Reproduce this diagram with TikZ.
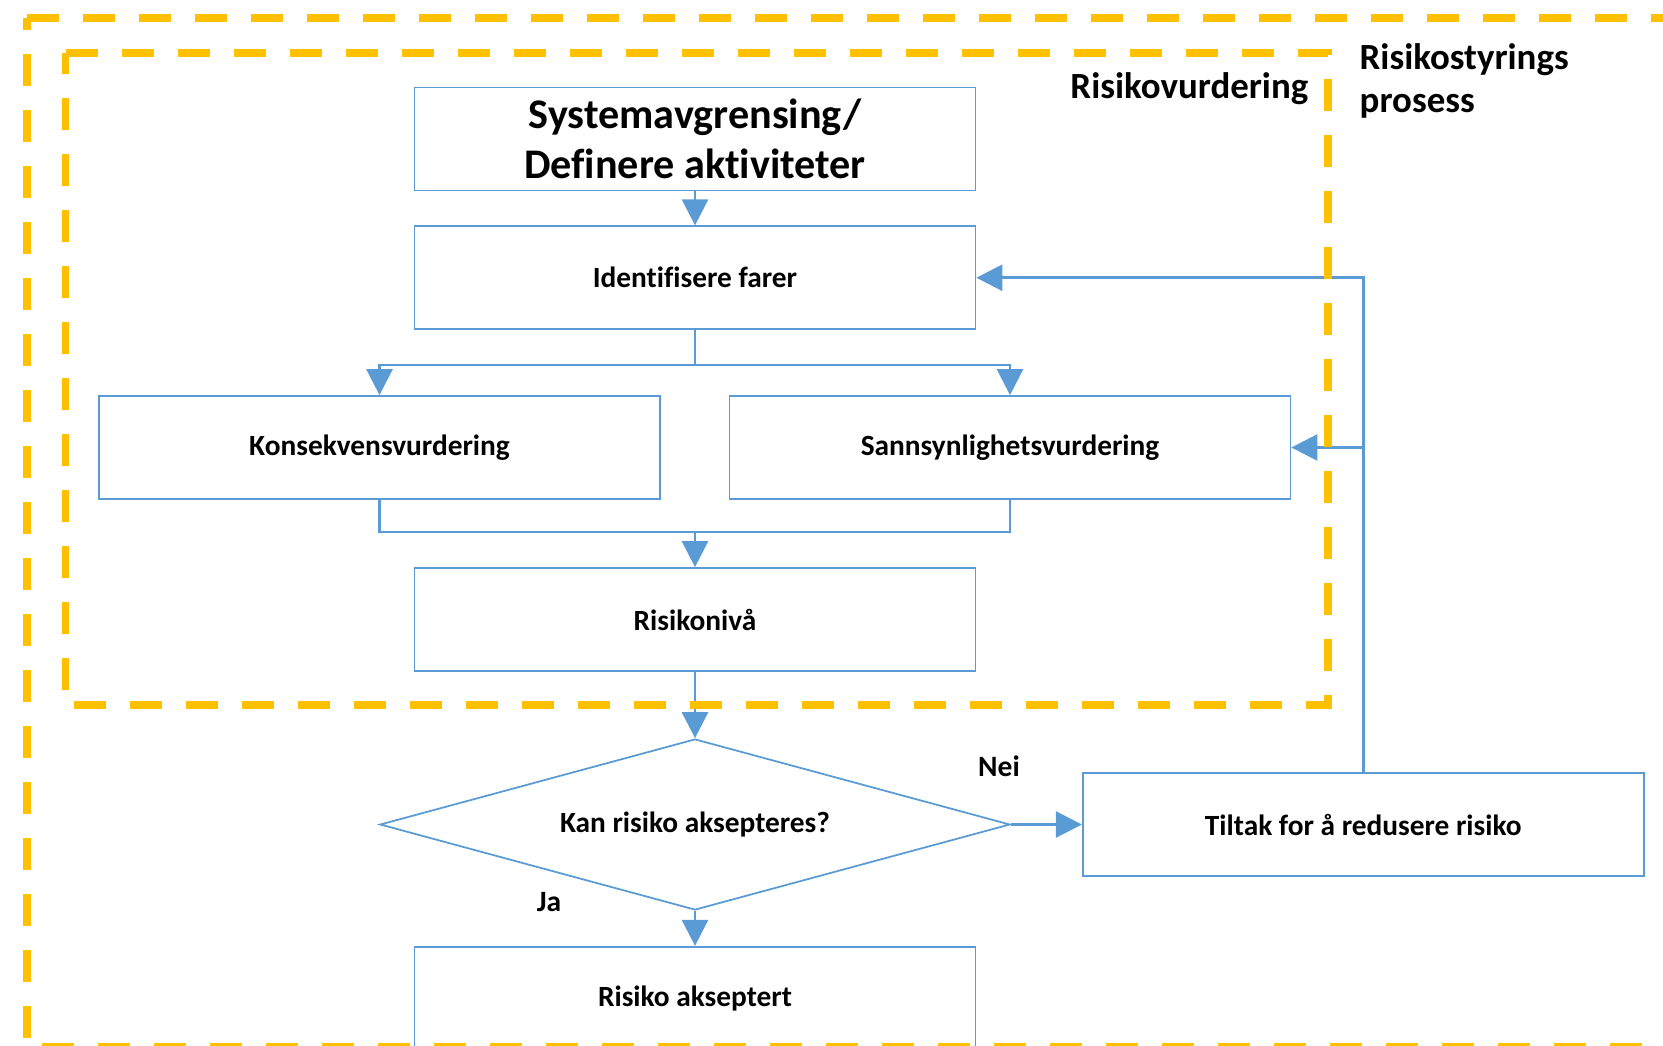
\documentclass[tikz,border=0pt]{standalone}
\usepackage{fontspec}
\setmainfont{Carlito}[Ligatures=NoCommon]
\usepackage{xcolor}
\usepackage{tikz}
\usetikzlibrary{positioning}
\usetikzlibrary{calc,arrows.meta}
\usetikzlibrary{shapes.geometric}

\definecolor{strekblaa}{HTML}{5B9BD5}
\definecolor{rammegul}{HTML}{FFC000}

\begin{document}
\begin{tikzpicture}[
    boks/.style={draw=strekblaa, line width=0.5pt, minimum width=5.61cm,
      minimum height=1.03cm, inner sep=0pt, align=center,
      font=\bfseries\fontsize{8.35}{10}\selectfont},
    valg/.style={boks, diamond, aspect=3.68, minimum width=6.3cm, minimum height=1.71cm},
    pil/.style={draw=strekblaa, line width=0.75pt, -{Triangle[length=0.26cm,width=0.26cm]}},
    linje/.style={draw=strekblaa, line width=0.75pt},
    ramme/.style={draw=rammegul, line width=2.1pt, dash pattern=on 0.32cm off 0.24cm},
    tittel/.style={inner sep=0pt, font=\bfseries\fontsize{10.5}{12.2}\selectfont},
    svar/.style={inner sep=0pt, font=\bfseries\fontsize{8.4}{10}\selectfont}
  ]
  % size of the whole picture
  \clip (0,0) rectangle (16.63,-10.45);

  \def\midtX{6.95}

  % the main column
  \node[boks, font=\bfseries\fontsize{12}{14.2}\selectfont] (sys) at (\midtX,-1.39) {Systemavgrensing/\\Definere aktiviteter};
  \node[boks, below=0.34cm of sys] (ident) {Identifisere farer};
  \node[boks] (konsek) at (3.795,-4.475) {Konsekvensvurdering};
  \node[boks] (sann) at (10.10,-4.475) {Sannsynlighetsvurdering};
  \node[boks] (nivaa) at (\midtX,-6.195) {Risikonivå};
  \node[valg] (aksept) at (\midtX,-8.245) {Kan risiko aksepteres?};
  \node[boks, right=0.71cm of aksept] (tiltak) {Tiltak for å redusere risiko};
  \node[boks, below=0.35cm of aksept] (godkjent) {Risiko akseptert};

  % answers
  \node[svar, anchor=base] (nei) at (9.99,-7.76) {Nei};
  \node[svar, anchor=base] (ja) at (5.49,-9.11) {Ja};

  % arrows down the column
  \draw[pil] (sys) -- (ident);
  \coordinate (deling) at ($(ident.south)+(0,-0.35)$);
  \draw[pil] (ident.south) -- (deling) -| (konsek.north);
  \draw[pil] (deling) -| (sann.north);
  \coordinate (samling) at ($(nivaa.north)+(0,0.35)$);
  \draw[linje] (konsek.south) |- (samling) -| (sann.south);
  \draw[pil] (samling) -- (nivaa);
  \draw[pil] (nivaa) -- (aksept);
  \draw[pil] (aksept) -- (tiltak);
  \draw[pil] (aksept) -- (godkjent);

  % back from the measures
  \draw[pil] (tiltak.north) |- (ident.east);
  \draw[pil] (tiltak.north |- sann.east) -- (sann.east);

  % dashed frames, drawn on top
  \draw[ramme] (0.27,-0.18) -- (17.2,-0.18) -- (17.2,-10.47) -- (0.27,-10.47) -- cycle;
  \draw[ramme] (0.655,-0.53) -- (13.28,-0.53) -- (13.28,-7.05) -- (0.655,-7.05) -- cycle;

  \node[tittel, anchor=base east] (vurdering) at (13.09,-0.98) {Risikovurdering};
  \node[tittel, anchor=north west, align=left] (styring) at (13.59,-0.434) {Risikostyrings\\prosess};

\end{tikzpicture}
\end{document}
